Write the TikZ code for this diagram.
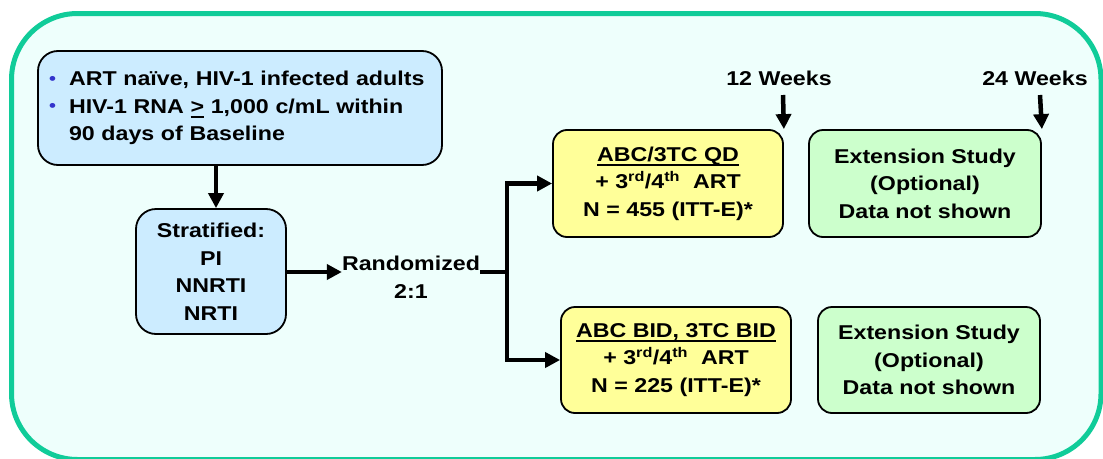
\documentclass[tikz,border=0pt]{standalone}
\usepackage{fontspec}
\setmainfont{Liberation Sans}[FakeStretch=1.16]
\usetikzlibrary{arrows.meta}
\definecolor{framec}{RGB}{16,204,153}
\definecolor{bgc}{RGB}{238,255,252}
\definecolor{bluec}{RGB}{204,236,255}
\definecolor{yelc}{RGB}{255,255,153}
\definecolor{grnc}{RGB}{204,255,204}
\definecolor{bulc}{RGB}{51,51,204}
\newsavebox\myulbox
\newcommand\myul[1]{\sbox\myulbox{#1}\rlap{\rule[-4.5pt]{\wd\myulbox}{2pt}}\usebox\myulbox}
\newcommand\mybul{\makebox[21pt][l]{\hspace{1pt}\textcolor{bulc}{\fontsize{17pt}{17pt}\selectfont\raisebox{1.5pt}{•}}}}
\tikzset{
  box/.style={draw=black, line width=1.8pt, rounded corners=14pt, inner sep=0pt, align=center},
  arr/.style={line width=4.5pt, -{Triangle[length=15pt,width=15pt]}},
  conn/.style={line width=4.5pt},
  lbl/.style={inner sep=0pt, align=center},
}
\begin{document}
\begin{tikzpicture}[x=1pt,y=-1pt,font=\bfseries\fontsize{20pt}{27.5pt}\selectfont]
\useasboundingbox (0,0) rectangle (1103,458);
\fill[white] (0,0) rectangle (1103,458);
\draw[framec, line width=5pt, fill=bgc, rounded corners=66pt] (11.5,13.5) rectangle (1101,459.5);

\node[box, fill=bluec, rounded corners=20pt, minimum width=404pt, minimum height=114pt, text width=384pt, align=left] (b1) at (240,108)
  {\mybul ART naïve, HIV-1 infected adults\\
   \mybul HIV-1 RNA \myul{>} 1,000 c/mL within\\
   \hspace*{21pt}90 days of Baseline};

\node[box, fill=bluec, rounded corners=20pt, minimum width=150pt, minimum height=125pt] (strat) at (211,271.5)
  {Stratified:\\PI\\NNRTI\\NRTI};

\node[lbl] (rnd) at (411,277) {Randomized\\2:1};

\node[box, fill=yelc, minimum width=230pt, minimum height=107pt] (y1) at (668,183.5)
  {\myul{ABC/3TC QD}\\+ 3\textsuperscript{rd}/4\textsuperscript{th}\ \ ART\\N = 455 (ITT-E)*};
\node[box, fill=grnc, minimum width=232pt, minimum height=107pt] (g1) at (925,183.5)
  {Extension Study\\(Optional)\\Data not shown};
\node[box, fill=yelc, minimum width=230pt, minimum height=106pt] (y2) at (676,360)
  {\myul{ABC BID, 3TC BID}\\+ 3\textsuperscript{rd}/4\textsuperscript{th}\ \ ART\\N = 225 (ITT-E)*};
\node[box, fill=grnc, minimum width=222pt, minimum height=106pt] (g2) at (929,360)
  {Extension Study\\(Optional)\\Data not shown};

\node[lbl] (w12) at (779,78) {12 Weeks};
\node[lbl] (w24) at (1035,78) {24 Weeks};

\coordinate (ax) at (216,0);
\coordinate (split) at (507,272);
\coordinate (t12) at (783,95);
\coordinate (t24) at (1040,95);

\draw[arr] (b1.south -| ax) -- (strat.north -| ax);
\draw[arr] (strat.east |- split) -- (rnd.west |- split);
\draw[conn] (rnd.east |- split) -- (split);
\draw[arr] (split) |- (y1.west);
\draw[arr] (split) |- (y2.west);
\draw[arr] (t12) -- (y1.north east);
\draw[arr] (t24) -- (g1.north east);
\end{tikzpicture}
\end{document}
